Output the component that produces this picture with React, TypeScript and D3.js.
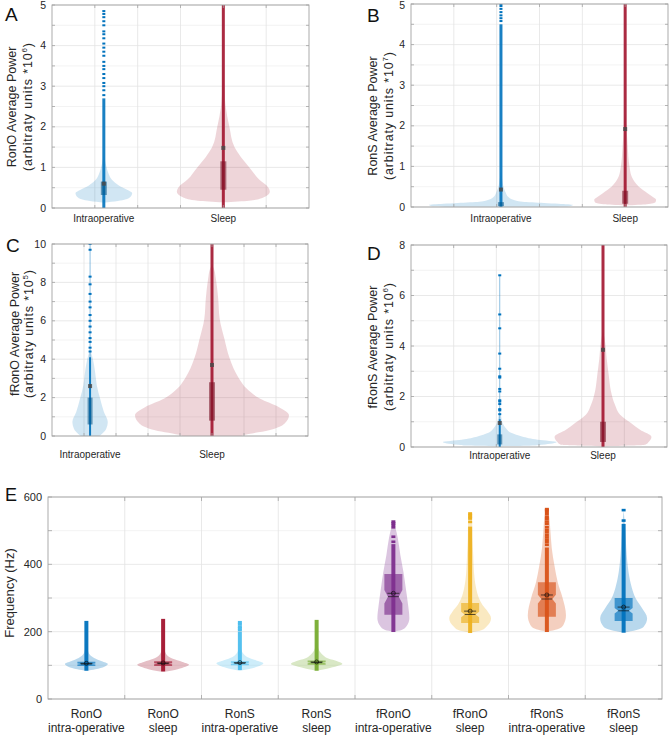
import React from "react";
import * as d3 from "d3";

type Pair = [number, number];

const FONT = "'Liberation Sans', Arial, Helvetica, sans-serif";
const BLUE = "#0072BD";
const RED = "#A2142F";

// ---------------- Panels A–D (average power) ----------------
const powerGroups = ["Intraoperative", "Sleep"];
const powerColors = [BLUE, RED];

// Panel A – RonO (x10^6)
const aYTicks = [0, 1, 2, 3, 4, 5];
const aGroupPos = [1.21, 4.0];
const aIntraViolin: Pair[] = [[0.13, 0], [0.17, 0.3], [0.25, 0.55], [0.37, 0.61], [0.45, 0.5], [0.55, 0.33], [0.7, 0.17], [0.85, 0.1], [1.0, 0.06], [1.2, 0.02], [1.4, 0]];
const aSleepViolin: Pair[] = [[0.14, 0], [0.18, 0.55], [0.25, 0.85], [0.4, 1.0], [0.5, 0.97], [0.7, 0.77], [1.0, 0.56], [1.25, 0.38], [1.5, 0.24], [2.0, 0.13], [2.5, 0.05], [3.0, 0.02], [3.5, 0]];
const aDense: Pair[] = [[0, 2.7], [0, 5.2]];
const aIntraOutliers = [2.78, 2.9, 3.0, 3.08, 3.2, 3.3, 3.42, 3.5, 3.6, 3.75, 3.85, 3.95, 4.05, 4.18, 4.28, 4.35, 4.5, 4.6, 4.7, 4.78, 4.85];
const aSleepOutliers: number[] = [];
const aBoxes: Pair[] = [[0.32, 0.65], [0.45, 1.15]];
const aMeans = [0.6, 1.48];

// Panel B – RonS (x10^7)
const bYTicks = [0, 1, 2, 3, 4, 5];
const bGroupPos = [2.1, 5.0];
const bIntraViolin: Pair[] = [[0.005, 0.6], [0.02, 0.95], [0.05, 1.0], [0.08, 0.8], [0.1, 0.6], [0.13, 0.3], [0.18, 0.17], [0.25, 0.1], [0.34, 0.07], [0.5, 0.035], [0.7, 0.015], [0.9, 0]];
const bSleepViolin: Pair[] = [[0.04, 0], [0.07, 0.3], [0.12, 0.42], [0.18, 0.43], [0.25, 0.38], [0.34, 0.31], [0.5, 0.19], [0.75, 0.09], [1.0, 0.06], [1.5, 0.035], [1.9, 0.02], [2.3, 0]];
const bDense: Pair[] = [[0, 4.5], [0, 5.2]];
const bIntraOutliers = [4.58, 4.65, 4.72, 4.8, 4.88, 4.95, 5.0];
const bSleepOutliers: number[] = [];
const bBoxes: Pair[] = [[0.02, 0.12], [0.08, 0.4]];
const bMeans = [0.43, 1.92];

// Panel C – fRonO (x10^5)
const cYTicks = [0, 2, 4, 6, 8, 10];
const cGroupPos = [1.19, 5.0];
const cIntraViolin: Pair[] = [[0, 0.12], [0.03, 0.13], [0.38, 0.21], [0.73, 0.23], [1.25, 0.18], [1.95, 0.13], [2.64, 0.087], [3.34, 0.065], [4.03, 0.035], [4.5, 0]];
const cSleepViolin: Pair[] = [[0, 0.38], [0.03, 0.4], [0.3, 0.74], [0.64, 0.94], [1.08, 1.0], [1.5, 0.87], [1.95, 0.62], [2.47, 0.45], [3.0, 0.35], [4.03, 0.23], [5.08, 0.16], [6.1, 0.1], [7.17, 0.08], [8.2, 0.05], [8.7, 0.026], [8.9, 0]];
const cDense: Pair[] = [[0, 4.1], [0, 10.2]];
const cIntraOutliers = [4.4, 4.6, 4.9, 5.1, 5.4, 5.7, 6.0, 6.3, 6.7, 7.0, 7.4, 7.9, 8.3, 9.7, 10];
const cSleepOutliers: number[] = [];
const cThinMax = [10, 0];
const cBoxes: Pair[] = [[0.6, 2.0], [0.8, 2.8]];
const cMeans = [2.6, 3.7];

// Panel D – fRonS (x10^6)
const dYTicks = [0, 2, 4, 6, 8];
const dGroupPos = [2.08, 4.5];
const dIntraViolin: Pair[] = [[0.03, 0], [0.06, 0.6], [0.09, 0.74], [0.2, 1.0], [0.29, 0.67], [0.42, 0.39], [0.55, 0.21], [0.75, 0.105], [0.95, 0.05], [1.2, 0.026], [1.4, 0]];
const dSleepViolin: Pair[] = [[0.03, 0], [0.09, 0.74], [0.2, 0.8], [0.4, 0.85], [0.68, 0.65], [0.95, 0.49], [1.28, 0.3], [1.67, 0.21], [2.2, 0.14], [2.86, 0.1], [3.5, 0.065], [4.2, 0.035], [4.6, 0]];
const dDense: Pair[] = [[0, 1.1], [0, 8.2]];
const dIntraOutliers = [1.3, 1.45, 1.5, 1.7, 1.8, 1.85, 2.2, 2.3, 2.75, 2.8, 3.1, 3.7, 4.7, 5.25, 6.8];
const dSleepOutliers: number[] = [];
const dThinMax = [6.8, 0];
const dBoxes: Pair[] = [[0.1, 0.5], [0.2, 1.0]];
const dMeans = [0.95, 3.85];

// ---------------- Panel E (frequency) ----------------
const eNames = ["RonO", "RonO", "RonS", "RonS", "fRonO", "fRonO", "fRonS", "fRonS"];
const eStates = ["intra-operative", "sleep", "intra-operative", "sleep", "intra-operative", "sleep", "intra-operative", "sleep"];
const eColors = ["#0072BD", "#A2142F", "#4DBEEE", "#77AC30", "#7E2F8E", "#EDB120", "#D95319", "#0072BD"];
const eYTicks = [0, 200, 400, 600];
const eViolins: Pair[][] = [
  [[83, 0], [88, 0.35], [96, 0.7], [104, 0.83], [112, 0.6], [122, 0.3], [135, 0.1], [150, 0.05], [180, 0.02], [230, 0]],
  [[80, 0], [86, 0.45], [94, 0.8], [102, 1.0], [110, 0.75], [120, 0.35], [132, 0.13], [150, 0.05], [180, 0.02], [236, 0]],
  [[84, 0], [90, 0.4], [98, 0.75], [106, 0.91], [115, 0.62], [125, 0.28], [135, 0.13], [150, 0.05], [180, 0.02], [228, 0]],
  [[84, 0], [90, 0.4], [98, 0.8], [104, 1.0], [112, 0.8], [120, 0.45], [130, 0.25], [140, 0.13], [155, 0.05], [180, 0.02], [234, 0]],
  [[200, 0], [205, 0.32], [215, 0.5], [240, 0.62], [279, 0.57], [330, 0.48], [377, 0.39], [428, 0.27], [478, 0.17], [508, 0.08], [526, 0]],
  [[197, 0], [205, 0.46], [214, 0.62], [240, 0.81], [260, 0.68], [279, 0.48], [300, 0.34], [330, 0.23], [377, 0.15], [428, 0.12], [478, 0.09], [526, 0.08], [555, 0]],
  [[200, 0], [207, 0.41], [220, 0.64], [249, 0.74], [300, 0.61], [347, 0.42], [398, 0.29], [448, 0.19], [496, 0.14], [547, 0.08], [564, 0]],
  [[197, 0], [205, 0.5], [214, 0.77], [240, 0.91], [270, 0.71], [300, 0.46], [330, 0.32], [377, 0.19], [428, 0.12], [478, 0.08], [526, 0.04], [561, 0]],
];
const eDense: Pair[] = [[84, 232], [82, 238], [86, 200], [84, 235], [199, 460], [196, 512], [199, 450], [197, 520]];
const eOutliers: number[][] = [
  [],
  [],
  [205, 210, 215, 222, 228],
  [],
  [467, 482, 510, 517, 522, 527],
  [526, 536, 541, 546, 551],
  [458, 466, 473, 480, 487, 495, 502, 510, 520, 527, 535, 541, 549, 556, 561, 564],
  [530, 561],
];
const eQ1 = [98, 98, 100, 102, 250, 226, 244, 232];
const eMedian = [104, 105, 106, 108, 304, 251, 297, 262];
const eQ3 = [111, 112, 112, 114, 371, 285, 347, 300];
const eNotch = [1.5, 1.5, 1.5, 1.5, 20, 8, 13, 8];
const eMean = [106, 107, 108, 110, 314, 261, 309, 273];

// ---------------- layout ----------------
const GRID = "#e3e3e3";
const GRID_MINOR = "#f0f0f0";
const AXIS = "#a3a3a3";
const TEXT = "#262626";

type PowerCfg = {
  id: string;
  letter: string;
  letterX: number;
  letterY: number;
  left: number;
  right: number;
  top: number;
  bottom: number;
  xMax: number;
  yTicks: number[];
  pos: number[];
  violins: Pair[][];
  dense: Pair[];
  outliers: number[][];
  thinMax?: number[];
  boxes: Pair[];
  means: number[];
  maxHalf: number;
  colW: number[];
  label: string;
  exp: string;
  labelCY: number;
  label1X: number;
  label2X: number;
  tickLabelY: number;
};

const panels: PowerCfg[] = [
  { id: "A", letter: "A", letterX: 5, letterY: 21, left: 52, right: 309, top: 5, bottom: 208, xMax: 6, yTicks: aYTicks, pos: aGroupPos, violins: [aIntraViolin, aSleepViolin], dense: aDense, outliers: [aIntraOutliers, aSleepOutliers], boxes: aBoxes, means: aMeans, maxHalf: 46.5, colW: [3, 3], label: "RonO Average Power", exp: "6", labelCY: 107, label1X: 16, label2X: 32, tickLabelY: 222 },
  { id: "B", letter: "B", letterX: 367, letterY: 22, left: 411, right: 668, top: 4, bottom: 207, xMax: 6, yTicks: bYTicks, pos: bGroupPos, violins: [bIntraViolin, bSleepViolin], dense: bDense, outliers: [bIntraOutliers, bSleepOutliers], boxes: bBoxes, means: bMeans, maxHalf: 72, colW: [3, 3], label: "RonS Average Power", exp: "7", labelCY: 116, label1X: 377, label2X: 393, tickLabelY: 222 },
  { id: "C", letter: "C", letterX: 6, letterY: 252, left: 52, right: 308, top: 244, bottom: 436, xMax: 8, yTicks: cYTicks, pos: cGroupPos, violins: [cIntraViolin, cSleepViolin], dense: cDense, outliers: [cIntraOutliers, cSleepOutliers], thinMax: cThinMax, boxes: cBoxes, means: cMeans, maxHalf: 77, colW: [2, 3], label: "fRonO Average Power", exp: "5", labelCY: 334, label1X: 19, label2X: 33, tickLabelY: 458 },
  { id: "D", letter: "D", letterX: 367, letterY: 260, left: 411, right: 667, top: 245, bottom: 447, xMax: 6, yTicks: dYTicks, pos: dGroupPos, violins: [dIntraViolin, dSleepViolin], dense: dDense, outliers: [dIntraOutliers, dSleepOutliers], thinMax: dThinMax, boxes: dBoxes, means: dMeans, maxHalf: 57, colW: [2, 3], label: "fRonS Average Power", exp: "6", labelCY: 347, label1X: 377, label2X: 393, tickLabelY: 459 },
];

function PowerPanel({ cfg }: { cfg: PowerCfg }) {
  const yMax = cfg.yTicks[cfg.yTicks.length - 1];
  const step = cfg.yTicks[1] - cfg.yTicks[0];
  const x = d3.scaleLinear().domain([0, cfg.xMax]).range([cfg.left, cfg.right]);
  const y = d3.scaleLinear().domain([0, yMax]).range([cfg.bottom, cfg.top]);
  const w = d3.scaleLinear().domain([0, 1]).range([0, cfg.maxHalf]);
  const minor = cfg.yTicks.slice(0, -1).map((t) => t + step / 2);
  const xGrid = d3.range(1, cfg.xMax);
  const clipId = "clip" + cfg.id;

  return (
    <g>
      <defs>
        <clipPath id={clipId}>
          <rect x={cfg.left} y={cfg.top} width={cfg.right - cfg.left} height={cfg.bottom - cfg.top} />
        </clipPath>
      </defs>
      {minor.map((t) => (
        <line key={"m" + t} x1={cfg.left} x2={cfg.right} y1={y(t)} y2={y(t)} stroke={GRID_MINOR} strokeWidth={0.8} />
      ))}
      {cfg.yTicks.map((t) => (
        <line key={"g" + t} x1={cfg.left} x2={cfg.right} y1={y(t)} y2={y(t)} stroke={GRID} strokeWidth={0.8} />
      ))}
      {xGrid.map((g) => (
        <line key={"x" + g} x1={x(g)} x2={x(g)} y1={cfg.top} y2={cfg.bottom} stroke={GRID} strokeWidth={0.8} />
      ))}
      <g clipPath={`url(#${clipId})`}>
        {cfg.violins.map((v, i) => {
          const cx = x(cfg.pos[i]);
          const area = d3
            .area<Pair>()
            .y((d) => y(d[0]))
            .x0((d) => cx - w(d[1]))
            .x1((d) => cx + w(d[1]))
            .curve(d3.curveMonotoneY);
          return <path key={"v" + i} d={area(v) || ""} fill={powerColors[i]} fillOpacity={0.18} />;
        })}
        {cfg.pos.map((p, i) => {
          const cx = x(p);
          const col = powerColors[i];
          const cw = cfg.colW[i];
          const dn = cfg.dense[i];
          const bx = cfg.boxes[i];
          const thin = cfg.thinMax ? cfg.thinMax[i] : 0;
          return (
            <g key={"c" + i}>
              {thin > 0 && (
                <line x1={cx} x2={cx} y1={y(0)} y2={y(thin)} stroke={col} strokeOpacity={0.45} strokeWidth={1} />
              )}
              <rect x={cx - cw / 2} y={y(dn[1])} width={cw} height={y(dn[0]) - y(dn[1])} fill={col} fillOpacity={0.9} />
              {cfg.outliers[i].map((o, k) => (
                <rect key={k} x={cx - 1.5} y={y(o) - 1} width={3} height={2} fill={col} />
              ))}
              <rect x={cx - (cw + 3) / 2} y={y(bx[1])} width={cw + 3} height={y(bx[0]) - y(bx[1])} fill={d3.color(col)!.darker(0.9).formatHex()} fillOpacity={0.55} />
              <rect x={cx - 2} y={y(cfg.means[i]) - 2} width={4} height={4} fill="#4a4a4a" fillOpacity={0.85} />
            </g>
          );
        })}
      </g>
      {/* axes box */}
      <rect x={cfg.left} y={cfg.top} width={cfg.right - cfg.left} height={cfg.bottom - cfg.top} fill="none" stroke={AXIS} strokeWidth={0.9} />
      {[...cfg.yTicks, ...minor].map((t) => (
        <g key={"t" + t}>
          <line x1={cfg.left} x2={cfg.left + 3} y1={y(t)} y2={y(t)} stroke={AXIS} strokeWidth={0.8} />
          <line x1={cfg.right} x2={cfg.right - 3} y1={y(t)} y2={y(t)} stroke={AXIS} strokeWidth={0.8} />
        </g>
      ))}
      {xGrid.map((g) => (
        <g key={"xt" + g}>
          <line x1={x(g)} x2={x(g)} y1={cfg.top} y2={cfg.top + 3} stroke={AXIS} strokeWidth={0.8} />
          <line x1={x(g)} x2={x(g)} y1={cfg.bottom} y2={cfg.bottom - 3} stroke={AXIS} strokeWidth={0.8} />
        </g>
      ))}
      {cfg.yTicks.map((t) => (
        <text key={"yl" + t} x={cfg.left - 6} y={Math.max(y(t), 5.5)} dy="0.35em" textAnchor="end" fontSize={10.5} fill={TEXT} fontFamily={FONT}>
          {t}
        </text>
      ))}
      {cfg.pos.map((p, i) => (
        <text key={"xl" + i} x={x(p)} y={cfg.tickLabelY} textAnchor="middle" fontSize={10} fill={TEXT} fontFamily={FONT}>
          {powerGroups[i]}
        </text>
      ))}
      <g transform={`translate(${cfg.label1X},${cfg.labelCY}) rotate(-90)`}>
        <text textAnchor="middle" fontSize={12.5} fill={TEXT} fontFamily={FONT}>
          {cfg.label}
        </text>
      </g>
      <g transform={`translate(${cfg.label2X},${cfg.labelCY}) rotate(-90)`}>
        <text textAnchor="middle" fontSize={12.5} fill={TEXT} fontFamily={FONT} textLength={128} lengthAdjust="spacing">
          (arbitraty units *10
          <tspan fontSize={8} dy={-5}>{cfg.exp}</tspan>
          <tspan dy={5}>)</tspan>
        </text>
      </g>
      <text x={cfg.letterX} y={cfg.letterY} fontSize={19} fill="#111" fontFamily={FONT}>
        {cfg.letter}
      </text>
    </g>
  );
}

const eLayout = { left: 48, right: 662, top: 497, bottom: 699, maxHalf: 25.8, boxW: 18, colW: 4 };

function FrequencyPanel() {
  const L = eLayout;
  const x = d3.scaleLinear().domain([0.5, 8.5]).range([L.left, L.right]);
  const y = d3.scaleLinear().domain([0, 600]).range([L.bottom, L.top]);
  const w = d3.scaleLinear().domain([0, 1]).range([0, L.maxHalf]);
  const minor = [100, 300, 500];
  const seps = d3.range(1.5, 8.5, 1);
  return (
    <g>
      {minor.map((t) => (
        <line key={"m" + t} x1={L.left} x2={L.right} y1={y(t)} y2={y(t)} stroke={GRID_MINOR} strokeWidth={0.8} />
      ))}
      {eYTicks.map((t) => (
        <line key={"g" + t} x1={L.left} x2={L.right} y1={y(t)} y2={y(t)} stroke={GRID} strokeWidth={0.8} />
      ))}
      {seps.map((s) => (
        <line key={"s" + s} x1={x(s)} x2={x(s)} y1={L.top} y2={L.bottom} stroke={GRID} strokeWidth={0.8} />
      ))}
      {eViolins.map((v, i) => {
        const cx = x(i + 1);
        const area = d3
          .area<Pair>()
          .y((d) => y(d[0]))
          .x0((d) => cx - w(d[1]))
          .x1((d) => cx + w(d[1]))
          .curve(d3.curveMonotoneY);
        return <path key={"v" + i} d={area(v) || ""} fill={eColors[i]} fillOpacity={0.28} />;
      })}
      {eColors.map((col, i) => {
        const cx = x(i + 1);
        const hb = L.boxW / 2;
        const hi = hb * 0.6;
        const q1 = y(eQ1[i]);
        const q3 = y(eQ3[i]);
        const md = y(eMedian[i]);
        const nu = y(eMedian[i] + eNotch[i]);
        const nl = y(eMedian[i] - eNotch[i]);
        const pts: Pair[] = [
          [cx - hb, q3], [cx + hb, q3], [cx + hb, nu], [cx + hi, md], [cx + hb, nl], [cx + hb, q1],
          [cx - hb, q1], [cx - hb, nl], [cx - hi, md], [cx - hb, nu],
        ];
        const dn = eDense[i];
        const my = y(eMean[i]);
        return (
          <g key={"b" + i}>
            <path d={(d3.line()(pts) || "") + "Z"} fill={col} fillOpacity={0.65} />
            <rect x={cx - L.colW / 2} y={y(dn[1])} width={L.colW} height={y(dn[0]) - y(dn[1])} fill={col} fillOpacity={0.95} />
            {eOutliers[i].map((o, k) => (
              <rect key={k} x={cx - L.colW / 2} y={y(o) - 1.3} width={L.colW} height={2.6} fill={col} />
            ))}
            <line x1={cx - hi} x2={cx + hi} y1={md} y2={md} stroke="#111" strokeWidth={0.7} />
            <line x1={cx - 6} x2={cx + 6} y1={my} y2={my} stroke="#111" strokeWidth={0.7} />
            <circle cx={cx} cy={my} r={2} fill="none" stroke="#111" strokeWidth={0.7} />
          </g>
        );
      })}
      <rect x={L.left} y={L.top} width={L.right - L.left} height={L.bottom - L.top} fill="none" stroke={AXIS} strokeWidth={0.9} />
      {[...eYTicks, ...minor].map((t) => (
        <g key={"t" + t}>
          <line x1={L.left} x2={L.left + 4} y1={y(t)} y2={y(t)} stroke={AXIS} strokeWidth={0.8} />
          <line x1={L.right} x2={L.right - 4} y1={y(t)} y2={y(t)} stroke={AXIS} strokeWidth={0.8} />
        </g>
      ))}
      {seps.map((s) => (
        <g key={"xt" + s}>
          <line x1={x(s)} x2={x(s)} y1={L.top} y2={L.top + 4} stroke={AXIS} strokeWidth={0.8} />
          <line x1={x(s)} x2={x(s)} y1={L.bottom} y2={L.bottom - 4} stroke={AXIS} strokeWidth={0.8} />
        </g>
      ))}
      {eYTicks.map((t) => (
        <text key={"yl" + t} x={L.left - 6} y={y(t)} dy="0.35em" textAnchor="end" fontSize={11} fill={TEXT} fontFamily={FONT}>
          {t}
        </text>
      ))}
      {eNames.map((n, i) => (
        <text key={"xl" + i} x={x(i + 1)} textAnchor="middle" fontSize={12} fill={TEXT} fontFamily={FONT}>
          <tspan x={x(i + 1)} y={718}>{n}</tspan>
          <tspan x={x(i + 1)} y={732}>{eStates[i]}</tspan>
        </text>
      ))}
      <g transform={`translate(14,${(L.top + L.bottom) / 2 - 5}) rotate(-90)`}>
        <text textAnchor="middle" fontSize={13} fill={TEXT} fontFamily={FONT}>
          Frequency (Hz)
        </text>
      </g>
      <text x={5} y={501} fontSize={18} fill="#111" fontFamily={FONT}>
        E
      </text>
    </g>
  );
}

export default function App() {
  return (
    <svg
      width={669}
      height={736}
      viewBox="0 0 669 736"
      style={{ position: "absolute", left: 0, top: 0, background: "#fff" }}
    >
      <rect width={669} height={736} fill="#fff" />
      {panels.map((p) => (
        <PowerPanel key={p.id} cfg={p} />
      ))}
      <FrequencyPanel />
    </svg>
  );
}
